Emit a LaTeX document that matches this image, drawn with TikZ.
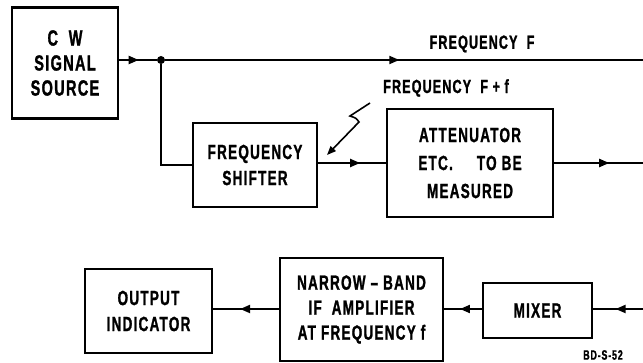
\documentclass[tikz,border=0pt]{standalone}
\usepackage{fontspec}
\setmainfont{Liberation Sans}[BoldFont=Liberation Sans Bold,BoldFeatures={FakeBold=1.2},FakeStretch=0.66,LetterSpace=6]
\usetikzlibrary{arrows.meta,decorations.markings}
\begin{document}
\begin{tikzpicture}[x=1pt,y=-1pt,
  blk/.style={draw,line width=2.3pt,rectangle,inner sep=0pt,align=center,
    font=\fontsize{20.5}{26}\selectfont\bfseries},
  wire/.style={line width=2pt},
  midarr/.style={postaction={decorate},decoration={markings,
    mark=at position #1 with {\arrow{Triangle[length=10pt,width=8pt]}}}},
  lbl/.style={font=\fontsize{19}{20}\selectfont\bfseries,inner sep=0pt}]
\useasboundingbox (0,0) rectangle (643,363);
% boxes
\node[blk,minimum width=106pt,minimum height=111pt,font=\fontsize{22}{25}\selectfont\bfseries] (cw) at (65,63) {C\ \ W\\SIGNAL\\SOURCE};
\node[blk,minimum width=124pt,minimum height=84pt] (fs) at (255,165) {FREQUENCY\\SHIFTER};
\node[blk,minimum width=166pt,minimum height=108pt,font=\fontsize{20.5}{28}\selectfont\bfseries] (att) at (470,163) {ATTENUATOR\\ETC.\hspace{24pt}TO BE\\MEASURED};
\node[blk,minimum width=127pt,minimum height=84pt] (out) at (148.5,311) {OUTPUT\\INDICATOR};
\node[blk,minimum width=163pt,minimum height=103pt,font=\fontsize{20.5}{25}\selectfont\bfseries] (nb) at (361.5,309.5) {NARROW -- BAND\\IF\ \ AMPLIFIER\\AT FREQUENCY f};
\node[blk,minimum width=109pt,minimum height=55pt] (mix) at (537.5,310.5) {MIXER};
% junction and edge coordinates
\node[circle,fill,inner sep=0pt,minimum size=8pt] (j) at (161,60) {};
\coordinate (r1) at (643,60);
\coordinate (r2) at (643,163);
\coordinate (r3) at (643,309);
\coordinate (k) at (161,165);
% connectors
\draw[wire,midarr=0.52] (cw.east |- j) -- (j);
\draw[wire,midarr=0.49] (j) -- (r1);
\draw[wire] (j) -- (k) -- (fs.west);
\draw[wire,midarr=0.62] (fs.east |- att) -- (att.west);
\draw[wire,midarr=0.62] (att.east) -- (r2);
\draw[wire,midarr=0.55] (r3) -- (mix.east |- r3);
\draw[wire,midarr=0.58] (mix.west |- r3) -- (nb.east |- r3);
\draw[wire,midarr=0.59] (nb.west |- r3) -- (out.east |- r3);
% labels
\node[lbl] (lf) at (482,44) {FREQUENCY\ \ F};
\node[lbl] (lff) at (446,88) {FREQUENCY\ \ F\ +\ f};
\node[font=\fontsize{13.5}{14}\selectfont\bfseries,inner sep=0pt] (bd) at (603,355) {BD-S-52};
% squiggle arrow
\coordinate (s1) at (370,103);
\coordinate (s2) at (350,116);
\coordinate (s3) at (359,122);
\coordinate (s4) at (327,155);
\draw[line width=1.6pt,-{Triangle[length=9pt,width=7pt]}] (s1) -- (s2) .. controls (356,118) .. (s3) -- (s4);
\end{tikzpicture}
\end{document}
